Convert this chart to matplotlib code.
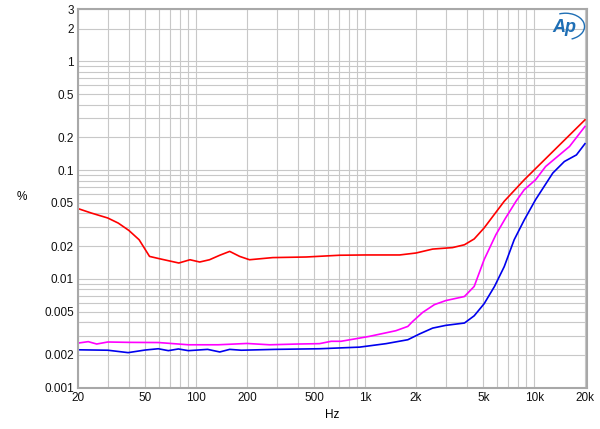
import numpy as np
import matplotlib
matplotlib.use('Agg')
import matplotlib.pyplot as plt
from matplotlib.ticker import FixedLocator, NullFormatter, FixedFormatter
from matplotlib.patches import Arc

plt.rcParams['font.family'] = ['Liberation Sans', 'DejaVu Sans']

# red trace
red_f = [20, 24, 30, 34.6, 40, 46, 53, 61, 79, 92, 105, 120, 138, 158, 181, 207, 284, 448, 706,
         1000, 1600, 2000, 2510, 3290, 3870, 4420, 5060, 6660, 8740, 20000]
red_v = [0.0443, 0.0403, 0.0363, 0.0326, 0.0279, 0.0229, 0.0161, 0.0153, 0.0140, 0.0150, 0.0143,
         0.0150, 0.0165, 0.0179, 0.0161, 0.0150, 0.0157, 0.0159, 0.0165,
         0.0166, 0.0166, 0.0173, 0.0188, 0.0194, 0.0206, 0.0233, 0.0294, 0.0518, 0.0815, 0.29]

# magenta trace
mag_f = [20, 23, 25.8, 30, 40, 60, 90, 135, 200, 272, 400, 537, 630, 720, 1056, 1520, 1790,
         1910, 2190, 2570, 3000, 3870, 4420, 5060, 5940, 6780, 7820, 8740, 10200, 11700, 16200, 20000]
mag_v = [0.00257, 0.00265, 0.00252, 0.00263, 0.00261, 0.00260, 0.00248, 0.00248, 0.00255, 0.00248,
         0.00252, 0.00254, 0.00267, 0.00267, 0.00296, 0.00334, 0.00366,
         0.00406, 0.00492, 0.00580, 0.00632, 0.00689, 0.00853, 0.01503, 0.0255, 0.0363, 0.0518,
         0.0660, 0.0815, 0.108, 0.165, 0.252]

# blue trace
blue_f = [20, 30, 39.6, 50, 59.7, 68.5, 78.5, 90, 117, 138, 158, 185, 293, 537, 928, 1330, 1790,
          2100, 2510, 3000, 3870, 4420, 5060, 5830, 6660, 7620, 8740, 10200, 12900, 15100, 17800, 20000]
blue_v = [0.00223, 0.00221, 0.00210, 0.00222, 0.00228, 0.00219, 0.00227, 0.00219, 0.00225, 0.00213,
          0.00225, 0.00221, 0.00225, 0.00228, 0.00236, 0.00254, 0.00276,
          0.00312, 0.00353, 0.00374, 0.00393, 0.00458, 0.00591, 0.00853, 0.0130, 0.0229, 0.0348,
          0.0535, 0.094, 0.120, 0.138, 0.175]

xticks = [20, 50, 100, 200, 500, 1000, 2000, 5000, 10000, 20000]
xlabels = ['20', '50', '100', '200', '500', '1k', '2k', '5k', '10k', '20k']
yticks = [0.001, 0.002, 0.005, 0.01, 0.02, 0.05, 0.1, 0.2, 0.5, 1, 2, 3]
ylabels = ['0.001', '0.002', '0.005', '0.01', '0.02', '0.05', '0.1', '0.2', '0.5', '1', '2', '3']

fig = plt.figure(figsize=(6, 4.29), dpi=100)
ax = fig.add_axes([0.13, 0.0963, 0.848, 0.8817])

ax.plot(red_f, red_v, color='#ff0000', lw=1.2)
ax.plot(mag_f, mag_v, color='#ff00ff', lw=1.2)
ax.plot(blue_f, blue_v, color='#0000ee', lw=1.2)

ax.set_xscale('log')
ax.set_yscale('log')
ax.set_xlim(20, 20500)
ax.set_ylim(0.001, 3)

# grid on every 1..9 multiple
xg = [m * 10**e for e in range(1, 5) for m in range(1, 10) if 20 <= m * 10**e <= 20500]
yg = [m * 10.0**e for e in range(-3, 1) for m in range(1, 10)] + [2, 3]
ax.xaxis.set_major_locator(FixedLocator(xticks))
ax.xaxis.set_major_formatter(FixedFormatter(xlabels))
ax.xaxis.set_minor_locator(FixedLocator(xg))
ax.xaxis.set_minor_formatter(NullFormatter())
ax.yaxis.set_major_locator(FixedLocator(yticks))
ax.yaxis.set_major_formatter(FixedFormatter(ylabels))
ax.yaxis.set_minor_locator(FixedLocator(yg))
ax.yaxis.set_minor_formatter(NullFormatter())
ax.grid(True, which='both', color='#c8c8c8', lw=0.8)
ax.set_axisbelow(True)
ax.tick_params(which='both', length=0, labelsize=8.5, colors='#111111')
ax.tick_params(axis='x', pad=3)
ax.tick_params(axis='y', pad=3)

for s in ax.spines.values():
    s.set_color('#a8a8a8')
    s.set_linewidth(1.5)

ax.set_xlabel('Hz', fontsize=8.5, labelpad=4)
fig.text(0.037, 0.54, '%', fontsize=8.5, ha='center', va='center')

# Ap logo
ax.text(0.955, 0.975, 'Ap', transform=ax.transAxes, fontsize=13, style='italic',
        color='#1f6fb5', ha='center', va='top', fontweight='bold')
ax.add_patch(Arc((0.958, 0.955), 0.075, 0.07, transform=ax.transAxes, theta1=-70, theta2=110,
                 color='#1f6fb5', lw=1.0))

fig.savefig('out.png', dpi=100)
